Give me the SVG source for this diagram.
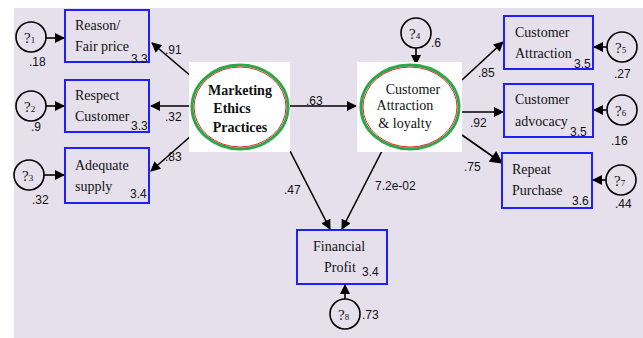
<svg xmlns="http://www.w3.org/2000/svg" width="643" height="338" viewBox="0 0 643 338">
  <style>
    .obs { fill: none; stroke: #1f1fff; stroke-width: 2; }
    .err { fill: none; stroke: #000; stroke-width: 1.6; }
    .lbl { font-family: "Liberation Serif", "Tinos", "DejaVu Serif", "Times New Roman", serif; font-size: 14px; fill: #111; }
    .lat { font-family: "Liberation Serif", "Tinos", "DejaVu Serif", "Times New Roman", serif; font-size: 14px; fill: #111; text-anchor: middle; }
    .latb { font-family: "Liberation Serif", "Tinos", "DejaVu Serif", "Times New Roman", serif; font-size: 14px; font-weight: bold; fill: #111; text-anchor: middle; }
    .num { font-family: "Liberation Sans", "Arimo", Arial, sans-serif; font-size: 12px; fill: #111; }
    .q { font-family: "Liberation Serif", "Tinos", "DejaVu Serif", "Times New Roman", serif; font-size: 15px; fill: #111; }
    .sub { font-size: 9px; }
    .edge { stroke: #000; stroke-width: 1.6; fill: none; marker-end: url(#ah); }
  </style>
  <defs>
    <marker id="ah" viewBox="0 0 10 10" refX="9" refY="5" markerWidth="11" markerHeight="10" markerUnits="userSpaceOnUse" orient="auto">
      <path d="M0,0 L10,5 L0,10 z" fill="#000"/>
    </marker>
    <marker id="ahL" viewBox="0 0 10 10" refX="9" refY="5" markerWidth="14" markerHeight="13" markerUnits="userSpaceOnUse" orient="auto">
      <path d="M0,0 L10,5 L0,10 z" fill="#000"/>
    </marker>
  </defs>

  <!-- canvas -->
  <rect x="14" y="8" width="629" height="330" fill="#e6e0ed"/>

  <!-- connectors -->
  <g id="connectors">
    <line class="edge" x1="46" y1="38" x2="64" y2="38"/>
    <line class="edge" x1="46" y1="106" x2="64" y2="106"/>
    <line class="edge" x1="44" y1="175" x2="64" y2="175"/>
    <line class="edge" x1="192" y1="77" x2="152" y2="43"/>
    <line class="edge" x1="190" y1="106" x2="151" y2="106"/>
    <line class="edge" x1="192" y1="135" x2="151" y2="171"/>
    <line class="edge" x1="290" y1="106" x2="356" y2="106"/>
    <line class="edge" x1="290" y1="151" x2="330" y2="229"/>
    <line class="edge" x1="383" y1="149" x2="342" y2="229"/>
    <line class="edge" x1="416" y1="48" x2="416" y2="64"/>
    <line class="edge" x1="462" y1="80" x2="503" y2="42"/>
    <line class="edge" x1="462" y1="112" x2="503" y2="112"/>
    <line class="edge" x1="462" y1="135" x2="502" y2="163" style="marker-end:url(#ahL)"/>
    <line class="edge" x1="607" y1="47" x2="594" y2="47"/>
    <line class="edge" x1="607" y1="110" x2="594" y2="110"/>
    <line class="edge" x1="606" y1="180" x2="593" y2="180"/>
    <line class="edge" x1="345" y1="299" x2="345" y2="285"/>
    <text class="num" x="165" y="54">.91</text>
    <text class="num" x="165" y="121">.32</text>
    <text class="num" x="165" y="161">.83</text>
    <text class="num" x="306" y="105">.63</text>
    <text class="num" x="284" y="194">.47</text>
    <text class="num" x="375" y="190">7.2e-02</text>
    <text class="num" x="478" y="77">.85</text>
    <text class="num" x="470" y="127">.92</text>
    <text class="num" x="464" y="171">.75</text>
  </g>

  <!-- latent factors -->
  <g id="marketing-ethics">
    <rect x="189" y="62" width="101" height="90" fill="#fff"/>
    <ellipse cx="240" cy="107" rx="48" ry="42" fill="#fff" stroke="#2aa84a" stroke-width="3"/>
    <ellipse cx="240" cy="107" rx="46" ry="40" fill="none" stroke="#e8282b" stroke-width="1"/>
    <text class="latb" x="240" y="95">Marketing</text>
    <text class="latb" x="232" y="113">Ethics</text>
    <text class="latb" x="240" y="132">Practices</text>
  </g>
  <g id="customer-loyalty">
    <rect x="357" y="62" width="105" height="90" fill="#fff"/>
    <ellipse cx="410" cy="107" rx="49" ry="42" fill="#fff" stroke="#2aa84a" stroke-width="3"/>
    <ellipse cx="410" cy="107" rx="47" ry="40" fill="none" stroke="#e8282b" stroke-width="1"/>
    <text class="lat" x="413" y="94">Customer</text>
    <text class="lat" x="405" y="110">Attraction</text>
    <text class="lat" x="405" y="128">&amp; loyalty</text>
  </g>

  <!-- observed indicators -->
  <g id="reason-fair-price">
    <rect class="obs" x="65" y="10" width="84" height="52"/>
    <text class="lbl" x="75" y="30">Reason/</text>
    <text class="lbl" x="75" y="51">Fair price</text>
    <text class="num" x="131" y="63">3.3</text>
  </g>
  <g id="respect-customer">
    <rect class="obs" x="65" y="80" width="84" height="52"/>
    <text class="lbl" x="75" y="100">Respect</text>
    <text class="lbl" x="75" y="121">Customer</text>
    <text class="num" x="131" y="130">3.3</text>
  </g>
  <g id="adequate-supply">
    <rect class="obs" x="65" y="148" width="84" height="55"/>
    <text class="lbl" x="75" y="170">Adequate</text>
    <text class="lbl" x="75" y="191">supply</text>
    <text class="num" x="130" y="198">3.4</text>
  </g>
  <g id="customer-attraction">
    <rect class="obs" x="504" y="16" width="89" height="53"/>
    <text class="lbl" x="515" y="37">Customer</text>
    <text class="lbl" x="515" y="58">Attraction</text>
    <text class="num" x="574" y="68">3.5</text>
  </g>
  <g id="customer-advocacy">
    <rect class="obs" x="504" y="84" width="89" height="53"/>
    <text class="lbl" x="515" y="104">Customer</text>
    <text class="lbl" x="515" y="126">advocacy</text>
    <text class="num" x="570" y="136">3.5</text>
  </g>
  <g id="repeat-purchase">
    <rect class="obs" x="502" y="153" width="90" height="55"/>
    <text class="lbl" x="512" y="174">Repeat</text>
    <text class="lbl" x="512" y="195">Purchase</text>
    <text class="num" x="572" y="205">3.6</text>
  </g>
  <g id="financial-profit">
    <rect class="obs" x="297" y="230" width="90" height="54"/>
    <text class="lbl" x="313" y="251">Financial</text>
    <text class="lbl" x="324" y="272">Profit</text>
    <text class="num" x="362" y="276">3.4</text>
  </g>

  <!-- error terms -->
  <g id="e1">
    <circle class="err" cx="31" cy="37" r="15"/>
    <text class="q" x="24" y="43">?<tspan class="sub">1</tspan></text>
    <text class="num" x="29" y="66">.18</text>
  </g>
  <g id="e2">
    <circle class="err" cx="31" cy="106" r="15"/>
    <text class="q" x="24" y="112">?<tspan class="sub">2</tspan></text>
    <text class="num" x="31" y="131">.9</text>
  </g>
  <g id="e3">
    <circle class="err" cx="29" cy="175" r="15"/>
    <text class="q" x="22" y="181">?<tspan class="sub">3</tspan></text>
    <text class="num" x="32" y="204">.32</text>
  </g>
  <g id="e4">
    <circle class="err" cx="416" cy="33" r="15"/>
    <text class="q" x="409" y="39">?<tspan class="sub">4</tspan></text>
    <text class="num" x="431" y="47">.6</text>
  </g>
  <g id="e5">
    <circle class="err" cx="622" cy="47" r="15"/>
    <text class="q" x="615" y="53">?<tspan class="sub">5</tspan></text>
    <text class="num" x="614" y="78">.27</text>
  </g>
  <g id="e6">
    <circle class="err" cx="622" cy="110" r="15"/>
    <text class="q" x="615" y="116">?<tspan class="sub">6</tspan></text>
    <text class="num" x="611" y="145">.16</text>
  </g>
  <g id="e7">
    <circle class="err" cx="621" cy="180" r="15"/>
    <text class="q" x="614" y="186">?<tspan class="sub">7</tspan></text>
    <text class="num" x="615" y="208">.44</text>
  </g>
  <g id="e8">
    <circle class="err" cx="345" cy="314" r="15"/>
    <text class="q" x="338" y="320">?<tspan class="sub">8</tspan></text>
    <text class="num" x="362" y="319">.73</text>
  </g>
</svg>
